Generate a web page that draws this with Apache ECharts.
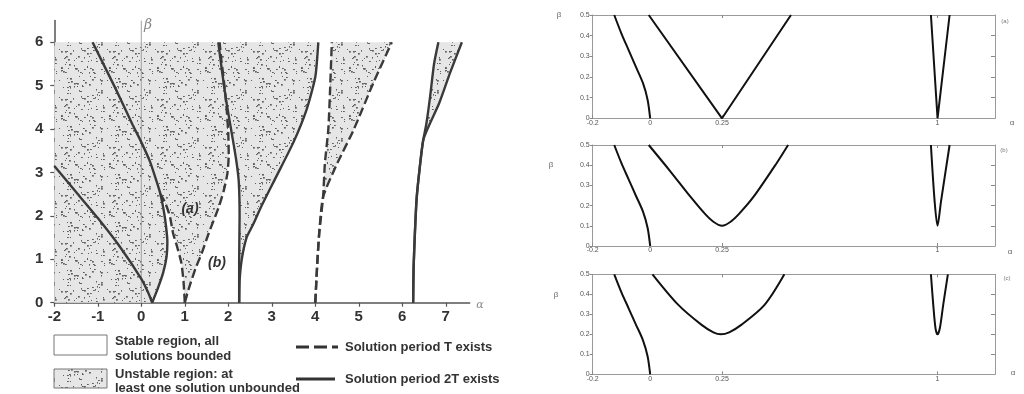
<!DOCTYPE html>
<html><head><meta charset="utf-8">
<script src="https://cdn.jsdelivr.net/npm/echarts@6/dist/echarts.min.js"></script>
<style>html,body{margin:0;padding:0;background:#fff}#c{width:1024px;height:394px}</style>
</head><body><div id="c"></div>
<script>
// ---------------- data ----------------
const leftXTicks = [-2, -1, 0, 1, 2, 3, 4, 5, 6, 7];
const leftYTicks = [0, 1, 2, 3, 4, 5, 6];
const betaAxisLine = [[0, 0], [0, 6.5]];

// solid (period 2T) and dashed (period T) transition curves, [alpha, beta]
const curveA = [[-2, 3.15], [-1.5, 2.55], [-1, 1.95], [-0.5, 1.3], [0, 0.55], [0.15, 0.25], [0.25, 0]];
const curveB = [[-1.12, 6], [-0.6, 4.95], [-0.2, 4.1], [0, 3.7], [0.2, 3.25], [0.35, 2.8], [0.44, 2.5],
                [0.52, 2.1], [0.57, 1.75], [0.6, 1.4], [0.58, 1.05], [0.5, 0.68], [0.38, 0.33], [0.25, 0]];
const curveL = [[1, 0], [0.97, 0.5], [0.92, 0.92], [0.82, 1.3], [0.73, 1.6], [0.66, 1.98], [0.55, 2.3], [0.44, 2.5]];
const curveC = [[1, 0], [1.1, 0.35], [1.25, 0.8], [1.39, 1.14], [1.55, 1.6], [1.78, 2.2], [1.9, 2.6],
                [1.98, 2.98], [2.01, 3.4], [2.0, 3.9], [1.96, 4.5], [1.9, 5.1], [1.84, 5.6], [1.8, 6]];
const curveD = [[1.77, 6], [1.86, 5.3], [1.96, 4.6], [2.08, 3.9], [2.18, 3.3], [2.24, 2.8], [2.26, 2.0], [2.25, 1.0], [2.25, 0]];
const curveE = [[2.25, 0], [2.26, 0.5], [2.31, 1.0], [2.42, 1.5], [2.57, 1.8], [2.75, 2.2], [3.1, 2.9],
                [3.5, 3.7], [3.8, 4.45], [4.0, 5.2], [4.07, 6]];
const curveF = [[4, 0], [4.04, 0.8], [4.09, 1.6], [4.18, 2.44], [4.22, 3.2], [4.3, 4.0], [4.34, 4.9], [4.38, 6]];
const curveG = [[4, 0], [4.04, 0.8], [4.09, 1.6], [4.18, 2.44], [4.5, 3.2], [4.88, 3.98], [5.35, 5.1], [5.76, 6]];
const curveH = [[6.25, 0], [6.26, 0.8], [6.29, 1.6], [6.33, 2.4], [6.4, 3.1], [6.48, 3.74], [6.55, 4.1], [6.64, 4.75], [6.73, 5.5], [6.83, 6]];
const curveI = [[6.25, 0], [6.26, 0.8], [6.29, 1.6], [6.33, 2.4], [6.4, 3.1], [6.48, 3.74], [6.6, 4.05], [6.85, 4.6], [7.1, 5.3], [7.37, 6]];

// right-hand panels
const panelXTicks = [-0.2, 0, 0.25, 1];
const panelTopTicks = [0.25, 1];
const panelYTicks = [0, 0.1, 0.2, 0.3, 0.4, 0.5];
const panelYInnerTicks = [0.1, 0.2, 0.3, 0.4];
const panelNames = ['(a)', '(b)', '(c)'];

const panelA0 = [[0, 0], [-0.009, 0.09], [-0.025, 0.17], [-0.05, 0.25], [-0.075, 0.33], [-0.1, 0.41], [-0.125, 0.5]];
const panelA1 = [[-0.005, 0.5], [0.25, 0], [0.49, 0.5]];
const panelA2 = [[0.977, 0.5], [1.0, 0], [1.042, 0.5]];

const panelB0 = [[0, 0], [-0.009, 0.09], [-0.025, 0.17], [-0.05, 0.25], [-0.075, 0.33], [-0.1, 0.41], [-0.125, 0.5]];
const panelB1 = [[-0.005, 0.5], [0.07, 0.37], [0.14, 0.244], [0.19, 0.16], [0.22, 0.12], [0.25, 0.1],
                 [0.28, 0.12], [0.31, 0.16], [0.36, 0.244], [0.44, 0.41], [0.48, 0.5]];
const panelB2 = [[0.977, 0.5], [0.99, 0.22], [1.0, 0.1], [1.012, 0.22], [1.042, 0.5]];

const panelC0 = [[0, 0], [-0.009, 0.09], [-0.025, 0.17], [-0.05, 0.25], [-0.075, 0.33], [-0.1, 0.41], [-0.125, 0.5]];
const panelC1 = [[0.008, 0.5], [0.098, 0.347], [0.179, 0.247], [0.22, 0.21], [0.246, 0.2],
                 [0.275, 0.21], [0.317, 0.247], [0.398, 0.347], [0.467, 0.5]];
const panelC2 = [[0.977, 0.5], [0.985, 0.35], [0.993, 0.23], [1.0, 0.2], [1.008, 0.23], [1.02, 0.35], [1.036, 0.5]];

// ---------------- build ----------------
function makeStipple() {
  const n = 48;
  const c = document.createElement('canvas'); c.width = n; c.height = n;
  const g = c.getContext('2d');
  g.fillStyle = '#e6e6e6'; g.fillRect(0, 0, n, n);
  g.fillStyle = '#606060';
  let s = 20240611;
  const next = () => { s = (Math.imul(s, 1103515245) + 12345) >>> 0; return s >>> 8; };
  for (let i = 0; i < 100; i++) {
    const x = next() % n, y = next() % n, w = 1 + (next() % 2) * 0.8, h = 1 + (next() % 2) * 0.6;
    g.fillRect(x, y, w, h);
  }
  return c;
}
const stipple = { image: makeStipple(), repeat: 'repeat' };

const lastL = curveL[curveL.length - 1];
const joinIdx = curveB.findIndex(p => p[0] === lastL[0] && p[1] === lastL[1]);
const regions = [
  [[-2, 0], [-2, 6]].concat(curveC.slice().reverse(), curveL.slice(1), curveB.slice(joinIdx + 1)),
  curveD.concat(curveE.slice(1)),
  curveF.concat(curveG.slice(1).reverse()),
  curveH.concat(curveI.slice(1).reverse())
];

const FONT = "'Liberation Sans', Arial, sans-serif";
const INK = '#333';
const solidStyle = { color: '#3a3a3a', width: 2.4, type: 'solid' };
const dashStyle = { color: '#3a3a3a', width: 2.4, type: [9, 4] };

function lineSeries(data, style, xi, yi, smooth) {
  return { type: 'line', data, xAxisIndex: xi, yAxisIndex: yi, showSymbol: false, symbol: 'none',
           smooth: smooth, lineStyle: style, silent: true, z: 3, animation: false };
}

const grids = [
  { left: 54.3, top: 20.6, width: 415.4, height: 282.1 },
  { left: 592.7, top: 15, width: 402.3, height: 103.3 },
  { left: 592.7, top: 145, width: 402.3, height: 101 },
  { left: 592.7, top: 274.3, width: 402.3, height: 100 }
].map(g => Object.assign({ outerBoundsMode: 'none', containLabel: false }, g));

const xAxes = [{
  gridIndex: 0, type: 'value', min: -2, max: 7.55,
  axisLine: { onZero: false, lineStyle: { color: '#555', width: 1.5 } },
  axisTick: { customValues: leftXTicks, length: 4, lineStyle: { color: '#555', width: 1.2 } },
  axisLabel: { customValues: leftXTicks, margin: 7, fontSize: 15, fontWeight: 'bold', color: INK, fontFamily: FONT },
  splitLine: { show: false }
}];
const yAxes = [{
  gridIndex: 0, type: 'value', min: 0, max: 6.5,
  axisLine: { show: true, onZero: false, lineStyle: { color: '#555', width: 1.5 } },
  axisTick: { show: true, customValues: leftYTicks, length: 4, lineStyle: { color: '#555', width: 1.2 } },
  axisLabel: { customValues: leftYTicks, margin: 11, fontSize: 15, fontWeight: 'bold', color: INK, fontFamily: FONT },
  splitLine: { show: false }
}];
const panelLine = { onZero: false, show: true, lineStyle: { color: '#9a9a9a', width: 1 } };
const panelTick = { color: '#888', width: 1 };
for (let p = 0; p < 3; p++) {
  const gi = p + 1;
  xAxes.push({
    gridIndex: gi, type: 'value', min: -0.2, max: 1.2, position: 'bottom',
    axisLine: panelLine,
    axisTick: { customValues: panelXTicks, inside: true, length: 3, lineStyle: panelTick },
    axisLabel: { customValues: panelXTicks, margin: 1, fontSize: 7, color: '#555', fontFamily: FONT },
    splitLine: { show: false }
  });
  xAxes.push({
    gridIndex: gi, type: 'value', min: -0.2, max: 1.2, position: 'top',
    axisLine: panelLine,
    axisTick: { customValues: panelTopTicks, inside: true, length: 3, lineStyle: panelTick },
    axisLabel: { show: false }, splitLine: { show: false }
  });
  yAxes.push({
    gridIndex: gi, type: 'value', min: 0, max: 0.5, position: 'left',
    axisLine: panelLine,
    axisTick: { show: true, customValues: panelYTicks, length: 3, lineStyle: panelTick },
    axisLabel: { customValues: panelYTicks, margin: 3, fontSize: 7, color: '#555', fontFamily: FONT },
    splitLine: { show: false }
  });
  yAxes.push({
    gridIndex: gi, type: 'value', min: 0, max: 0.5, position: 'right',
    axisLine: panelLine,
    axisTick: { show: true, customValues: panelYInnerTicks, inside: true, length: 4, lineStyle: panelTick },
    axisLabel: { show: false }, splitLine: { show: false }
  });
}

const series = [
  {
    type: 'custom', xAxisIndex: 0, yAxisIndex: 0, silent: true, z: 1, animation: false,
    data: regions.map(r => r[0]),
    renderItem: (params, api) => ({
      type: 'polygon',
      shape: { points: regions[params.dataIndex].map(pt => api.coord(pt)) },
      style: { fill: stipple, stroke: null }
    })
  },
  lineSeries(betaAxisLine, { color: '#a0a0a0', width: 1 }, 0, 0, false),
  lineSeries(curveA, solidStyle, 0, 0, 0.2),
  lineSeries(curveB, solidStyle, 0, 0, 0.2),
  lineSeries(curveL, dashStyle, 0, 0, 0.2),
  lineSeries(curveC, dashStyle, 0, 0, 0.2),
  lineSeries(curveD, solidStyle, 0, 0, 0.2),
  lineSeries(curveE, solidStyle, 0, 0, 0.2),
  lineSeries(curveF, dashStyle, 0, 0, 0.2),
  lineSeries(curveG, dashStyle, 0, 0, 0.2),
  lineSeries(curveH, solidStyle, 0, 0, 0.2),
  lineSeries(curveI, solidStyle, 0, 0, 0.2)
];
const panelCurves = [[panelA0, panelA1, panelA2], [panelB0, panelB1, panelB2], [panelC0, panelC1, panelC2]];
const panelStyle = { color: '#111', width: 2, type: 'solid' };
panelCurves.forEach((curves, p) => {
  curves.forEach((c, k) => series.push(lineSeries(c, panelStyle, 1 + 2 * p, 1 + 2 * p, (p === 0 && k > 0) ? false : 0.3)));
});

function txt(x, y, text, font, fill, align) {
  return { type: 'text', x, y, z: 100, silent: true,
           style: { text, font, fill: fill || INK, align: align || 'left', verticalAlign: 'middle' } };
}
const LF = "bold 13px " + FONT;
const graphic = [
  txt(148, 25, 'β', "italic 14px 'DejaVu Serif', serif", '#888', 'center'),
  txt(480, 305, 'α', "italic 11px 'DejaVu Serif', serif", '#888', 'center'),
  txt(190, 209, '(a)', "italic bold 14px " + FONT, INK, 'center'),
  txt(217, 263, '(b)', "italic bold 14px " + FONT, INK, 'center'),
  { type: 'rect', z: 100, shape: { x: 54, y: 335, width: 53, height: 20 }, style: { fill: '#fff', stroke: '#777', lineWidth: 1 }, silent: true },
  { type: 'rect', z: 100, shape: { x: 54, y: 369, width: 53, height: 19 }, style: { fill: stipple, stroke: '#777', lineWidth: 1 }, silent: true },
  txt(115, 341, 'Stable region, all', LF),
  txt(115, 356, 'solutions bounded', LF),
  txt(115, 374, 'Unstable region: at', LF),
  txt(115, 388, 'least one solution unbounded', LF),
  { type: 'line', z: 100, shape: { x1: 296, y1: 347, x2: 338, y2: 347 }, style: { stroke: '#333', lineWidth: 3, lineDash: [13, 5] }, silent: true },
  txt(345, 347, 'Solution period T exists', LF),
  { type: 'line', z: 100, shape: { x1: 296, y1: 379, x2: 335, y2: 379 }, style: { stroke: '#333', lineWidth: 3 }, silent: true },
  txt(345, 379, 'Solution period 2T exists', LF),
  // panel texts
  txt(559, 15, 'β', "8px " + FONT, '#666', 'center'),
  txt(551, 165, 'β', "8px " + FONT, '#666', 'center'),
  txt(556, 295, 'β', "8px " + FONT, '#666', 'center'),
  txt(1012, 123, 'α', "8px " + FONT, '#666', 'center'),
  txt(1010, 252, 'α', "8px " + FONT, '#666', 'center'),
  txt(1013, 373, 'α', "8px " + FONT, '#666', 'center'),
  txt(1005, 21, panelNames[0], "6px " + FONT, '#777', 'center'),
  txt(1004, 150, panelNames[1], "6px " + FONT, '#777', 'center'),
  txt(1007, 278, panelNames[2], "6px " + FONT, '#777', 'center')
];

const chart = echarts.init(document.getElementById('c'), null, { renderer: 'canvas' });
chart.setOption({
  backgroundColor: '#fff',
  animation: false,
  grid: grids,
  xAxis: xAxes,
  yAxis: yAxes,
  series,
  graphic
});
</script>
</body></html>
